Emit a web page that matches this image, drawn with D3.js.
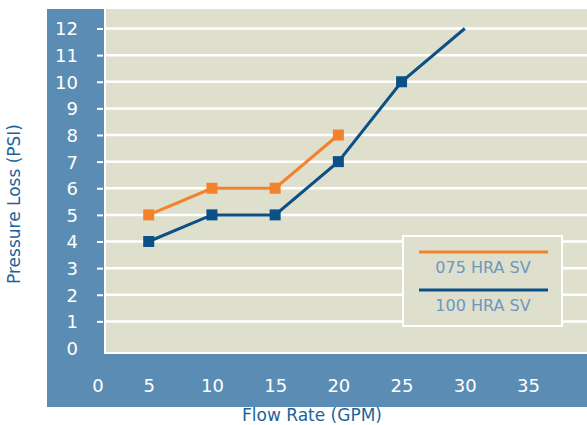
<html>
<head>
<script src="https://d3js.org/d3.v7.min.js"></script>
<style>
  body { margin: 0; background: #fff; font-family: 'DejaVu Sans', sans-serif; }
  svg { display: block; }
</style>
</head>
<body>
<svg width="587" height="425"></svg>
<script>
  // data
  var flow075 = [5, 10, 15, 20];
  var loss075 = [5, 6, 6, 8];
  var flow100 = [5, 10, 15, 20, 25, 30];
  var loss100 = [4, 5, 5, 7, 10, 12];
  var xTicks = [0, 5, 10, 15, 20, 25, 30, 35];
  var yTicks = [0, 1, 2, 3, 4, 5, 6, 7, 8, 9, 10, 11, 12];
  var seriesNames = ["075 HRA SV", "100 HRA SV"];
  var seriesColors = ["#f4822a", "#0b5187"];

  var svg = d3.select("svg");
  var width = +svg.attr("width");

  var frameBlue = "#5b8db4";
  var beige = "#dfdfcd";

  // outer blue frame and plot area
  svg.append("rect").attr("x", 47).attr("y", 9).attr("width", width - 47).attr("height", 398).attr("fill", frameBlue);
  svg.append("rect").attr("x", 104).attr("y", 9).attr("width", width - 104).attr("height", 345).attr("fill", "#fff");
  svg.append("rect").attr("x", 106).attr("y", 9).attr("width", width - 106).attr("height", 343).attr("fill", beige);

  var x = d3.scaleLinear().domain([0, 35]).range([85.5, 528]);
  var y = d3.scaleLinear().domain([0, 12]).range([348, 28.5]);

  // horizontal grid
  svg.append("g").selectAll("line")
    .data(yTicks.filter(function(d) { return d > 0; }))
    .enter().append("line")
    .attr("x1", 106).attr("x2", width)
    .attr("y1", function(d) { return y(d); })
    .attr("y2", function(d) { return y(d); })
    .attr("stroke", "#fff").attr("stroke-width", 2.5);

  // y axis
  var yAxis = d3.axisLeft(y).tickValues(yTicks).tickSize(6).tickPadding(19);
  var ya = svg.append("g").attr("transform", "translate(103,0)").call(yAxis);
  ya.select(".domain").remove();
  ya.selectAll(".tick line").attr("stroke", "#fff").attr("stroke-width", 2);
  ya.selectAll(".tick line").filter(function(d) { return d === 0; }).remove();
  ya.selectAll("text").attr("fill", "#fff").attr("font-size", 18)
    .attr("font-family", "'DejaVu Sans', sans-serif").attr("dy", "0.36em");

  // x axis
  var xAxis = d3.axisBottom(x).tickValues(xTicks).tickSize(0).tickPadding(21);
  var xa = svg.append("g").attr("transform", "translate(0,358)").call(xAxis);
  xa.select(".domain").remove();
  xa.selectAll("text").attr("fill", "#fff").attr("font-size", 18)
    .attr("font-family", "'DejaVu Sans', sans-serif");
  xa.selectAll("text").filter(function(d) { return d === 0; }).attr("dx", 12);

  // axis titles
  svg.append("text").attr("x", 312).attr("y", 421).attr("text-anchor", "middle")
    .attr("fill", "#1c639a").attr("font-size", 17).text("Flow Rate (GPM)");
  svg.append("text").attr("transform", "translate(20,204) rotate(-90)").attr("text-anchor", "middle")
    .attr("fill", "#1c639a").attr("font-size", 17).text("Pressure Loss (PSI)");

  var line = d3.line()
    .x(function(d) { return x(d[0]); })
    .y(function(d) { return y(d[1]); });

  var s075 = d3.zip(flow075, loss075);
  var s100 = d3.zip(flow100, loss100);

  svg.append("path").datum(s075).attr("d", line).attr("fill", "none")
    .attr("stroke", seriesColors[0]).attr("stroke-width", 3);
  svg.append("path").datum(s100).attr("d", line).attr("fill", "none")
    .attr("stroke", seriesColors[1]).attr("stroke-width", 3);

  var m = 11;
  svg.append("g").selectAll("rect").data(s075).enter().append("rect")
    .attr("x", function(d) { return x(d[0]) - m / 2; })
    .attr("y", function(d) { return y(d[1]) - m / 2; })
    .attr("width", m).attr("height", m).attr("fill", seriesColors[0]);
  // last point of the 100 series has no marker
  svg.append("g").selectAll("rect").data(s100.slice(0, -1)).enter().append("rect")
    .attr("x", function(d) { return x(d[0]) - m / 2; })
    .attr("y", function(d) { return y(d[1]) - m / 2; })
    .attr("width", m).attr("height", m).attr("fill", seriesColors[1]);

  // legend
  var lg = svg.append("g").attr("transform", "translate(403,236)");
  lg.append("rect").attr("width", 159).attr("height", 90)
    .attr("fill", beige).attr("stroke", "#fff").attr("stroke-width", 2);
  seriesNames.forEach(function(name, i) {
    lg.append("line").attr("x1", 16).attr("x2", 145)
      .attr("y1", 16 + i * 38).attr("y2", 16 + i * 38)
      .attr("stroke", seriesColors[i]).attr("stroke-width", 3);
    lg.append("text").attr("x", 80).attr("y", 37 + i * 38).attr("text-anchor", "middle")
      .attr("fill", "#6b98be").attr("font-size", 16).text(name);
  });
</script>
</body>
</html>
